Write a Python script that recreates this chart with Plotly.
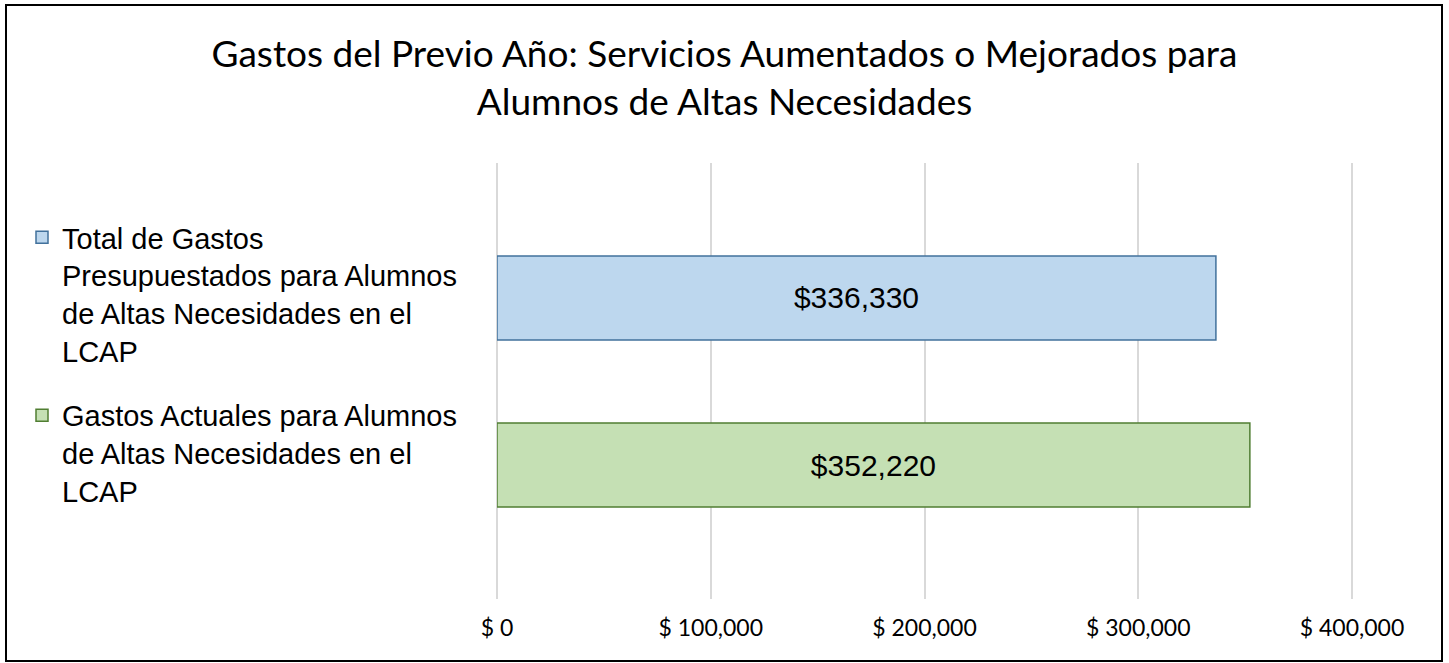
import plotly.graph_objects as go

# ---- data ----
categories = [
    "Total de Gastos<br>Presupuestados para Alumnos<br>de Altas Necesidades en el<br>LCAP",
    "Gastos Actuales para Alumnos<br>de Altas Necesidades en el<br>LCAP",
]
values = [336330, 352220]
fill_colors = ["#BDD7EE", "#C5E0B4"]
line_colors = ["#41719C", "#507E32"]
tick_vals = [0, 100000, 200000, 300000, 400000]
tick_labels = ["$ 0", "$ 100,000", "$ 200,000", "$ 300,000", "$ 400,000"]
title_text = ("Gastos del Previo Año: Servicios Aumentados o Mejorados para<br>"
              "Alumnos de Altas Necesidades")

W, H = 1449, 663
ML, MR, MT, MB = 497, 94, 163, 64

fig = go.Figure()
for i, (cat, val) in enumerate(zip(categories, values)):
    fig.add_trace(go.Bar(
        y=[cat], x=[val], orientation="h", name=cat,
        legendgroup=f"g{i}",
        width=0.503,
        marker=dict(color=fill_colors[i], line=dict(color=line_colors[i], width=1.5)),
        text=[f"${val:,}"], textposition="inside", insidetextanchor="middle",
        textfont=dict(family="Liberation Sans, Arial", size=30, color="black"),
        hoverinfo="x",
    ))

pw = W - ML - MR
ph = H - MT - MB
fig.add_shape(type="rect", xref="paper", yref="paper",
              x0=(6 - ML) / pw, x1=(1442 - ML) / pw,
              y0=(H - MB - 661) / ph, y1=(H - MB - 5) / ph,
              line=dict(color="black", width=2), fillcolor="rgba(0,0,0,0)", layer="below")

fig.update_layout(
    width=W, height=H,
    margin=dict(l=ML, r=MR, t=MT, b=MB),
    paper_bgcolor="white", plot_bgcolor="white",
    barmode="overlay",
    title=dict(text=title_text, x=0.5, xref="container", xanchor="center",
               y=1 - 67 / H, yref="container", yanchor="top",
               font=dict(family="Lato, Open Sans, sans-serif", size=37, color="black")),
    xaxis=dict(tickvals=tick_vals, ticktext=tick_labels,
               showgrid=True, gridcolor="#D9D9D9", gridwidth=2,
               zeroline=True, zerolinecolor="#D9D9D9", zerolinewidth=2,
               showline=False, ticks="", ticklabelstandoff=13,
               tickfont=dict(family="Lato, Open Sans, sans-serif", size=23, color="black")),
    yaxis=dict(type="category", categoryorder="array", categoryarray=categories,
               range=[1.802, -0.808], showticklabels=False, showgrid=False, zeroline=False),
    legend=dict(x=22 / W, xref="container", xanchor="left",
                y=1 - 212 / H, yref="container", yanchor="top",
                traceorder="grouped", tracegroupgap=24, valign="top", itemwidth=30,
                font=dict(family="Liberation Sans, Arial", size=29, color="black"),
                bgcolor="rgba(0,0,0,0)"),
    showlegend=True,
)

# x range: 400000 maps to px 1352
fig.update_xaxes(range=[0, 400000 * pw / (1352 - ML)])

fig.write_html("out.html",
               config={"displayModeBar": False},
               post_script="document.body.style.margin='0';document.body.style.overflow='hidden';")
